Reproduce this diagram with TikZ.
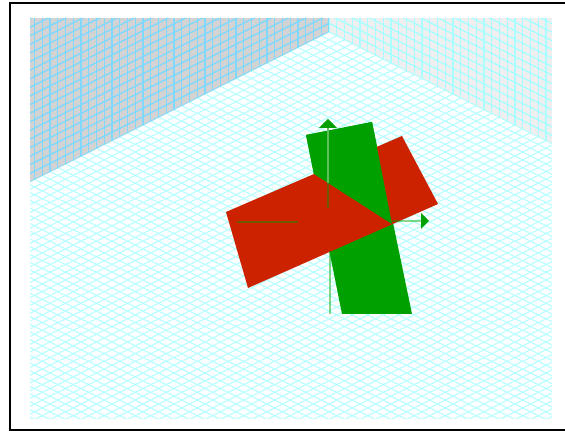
\documentclass[tikz,border=0pt]{standalone}
\usepackage{xcolor}
\usepackage{tikz}
\definecolor{wallleft}{HTML}{D3D3D3}
\definecolor{wallright}{HTML}{EFEFEF}
\definecolor{gridblue}{HTML}{80D8FF}
\definecolor{gridcyan}{HTML}{AAFFFF}
\definecolor{gridfloor}{HTML}{BBFFFF}
\definecolor{planegreen}{HTML}{00A000}
\definecolor{planered}{HTML}{CC2200}
\definecolor{axislight}{HTML}{60C060}
\begin{document}
\begin{tikzpicture}[
    x=0.02cm, y=-0.02cm,
    floorline/.style={gridfloor, line width=0.7pt},
    wallblue/.style={gridblue, line width=0.8pt},
    wallcyan/.style={gridcyan, line width=0.8pt},
    axisline/.style={planegreen, line width=0.9pt, draw opacity=0.45},
    axisover/.style={axislight, line width=0.8pt},
    arrowtip/.style={fill=planegreen, draw=none}
]
    \useasboundingbox (0,0) rectangle (565,431);

    % Frame
    \draw[black, line width=1.2pt] (10,3) rectangle (575,430);

    % Floor
    \begin{scope}
        \clip (30,182) -- (329,32) -- (552,144) -- (552,419) -- (30,419) -- cycle;
        \foreach \i in {-80,...,80} {
            \draw[floorline] (329+15.5*\i-1000,32-500) -- (329+15.5*\i+1000,32+500);
            \draw[floorline] (329+15.5*\i+1000,32-500) -- (329+15.5*\i-1000,32+500);
        }
    \end{scope}

    % Left wall
    \begin{scope}
        \clip (30,18) -- (329,18) -- (329,32) -- (30,182) -- cycle;
        \fill[wallleft] (30,18) rectangle (329,182);
        \foreach \i in {0,...,39} \draw[wallblue] (329-7.75*\i,18) -- (329-7.75*\i,182);
        \foreach \i in {-5,...,40} \draw[wallblue] (30,182-8.6*\i) -- (329,32-8.6*\i);
    \end{scope}

    % Right wall
    \begin{scope}
        \clip (329,18) -- (552,18) -- (552,144) -- (329,32) -- cycle;
        \fill[wallright] (329,18) rectangle (552,144);
        \foreach \i in {0,...,29} \draw[wallcyan] (329+7.75*\i,18) -- (329+7.75*\i,144);
        \foreach \i in {-5,...,30} \draw[wallcyan] (329,32-8.6*\i) -- (552,144-8.6*\i);
    \end{scope}

    % Planes
    \fill[planegreen] (306,135) -- (372,122) -- (412,314) -- (342,314) -- cycle;
    \fill[planered] (226,212) -- (402,136) -- (438,204) -- (248,288) -- cycle;
    \fill[planegreen] (306,135) -- (372,122) -- (392,224) -- (314,174) -- cycle;

    % Axes
    \draw[axisline] (328,183) -- (328,208);
    \draw[axisover] (328,128) -- (328,183);
    \draw[axisline] (330,251) -- (330,314);
    \draw[axisline] (237,222) -- (298,222);
    \draw[axisline] (392,221) -- (421,221);
    \fill[arrowtip] (319,128) -- (337,128) -- (328,119) -- cycle;
    \fill[arrowtip] (421,213) -- (421,229) -- (429,221) -- cycle;
\end{tikzpicture}
\end{document}
